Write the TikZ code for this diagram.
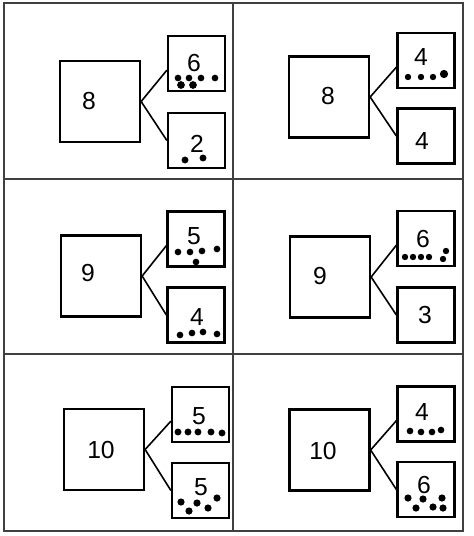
\documentclass[tikz,border=0pt]{standalone}
\usepackage{fontspec}
\setmainfont{Liberation Sans}
\begin{document}
\begin{tikzpicture}[x=0.75pt,y=-0.75pt,
  gridline/.style={draw=black!75, line width=0.8pt},
  bigbox/.style={draw, line width=1.7pt, minimum width=60pt, minimum height=60.75pt, inner sep=0pt},
  smallbox/.style={draw, line width=1.7pt, minimum width=42.75pt, minimum height=41.25pt, inner sep=0pt},
  num/.style={font=\fontsize{18.5}{20}\selectfont, inner sep=0pt},
  link/.style={line width=1.2pt}]
\useasboundingbox (0,0) rectangle (474,536);
% grid
\draw[gridline] (4,3) rectangle (463,531);
\draw[gridline] (233,3) -- (233,531);
\draw[gridline] (4,179) -- (463,179);
\draw[gridline] (4,354) -- (463,354);

% ---------- cell 1
\node[bigbox] (b1) at (100,101.5) {};
\node[num] (n1) at (89,101.5) {8};
\node[smallbox] (s1a) at (196.5,63.5) {};
\node[smallbox] (s1b) at (196.5,140.5) {};
\node[num] (t1a) at (194,63.5) {6};
\node[num] (t1b) at (197,143.5) {2};
\draw[link] ([yshift=-5pt]s1a.west) -- (b1.east) -- (s1b.west);
\foreach \p in {(178,78),(189,78),(201,78),(215,78)} \fill \p circle[radius=2.5pt];
\foreach \p in {(181,85),(193,85)} \fill \p circle[radius=2.9pt];
\foreach \p in {(185,160),(203,158)} \fill \p circle[radius=2.6pt];

% ---------- cell 2
\node[bigbox] (b2) at (329,97) {};
\node[num] (n2) at (328,96) {8};
\node[smallbox] (s2a) at (426,60.5) {};
\node[smallbox] (s2b) at (426,136) {};
\node[num] (t2a) at (421,57.5) {4};
\node[num] (t2b) at (422,141) {4};
\draw[link] ([yshift=-5pt]s2a.west) -- (b2.east) -- (s2b.west);
\foreach \p in {(408,77),(421,77),(433,77)} \fill \p circle[radius=2.4pt];
\fill (444,74) circle[radius=3.1pt];

% ---------- cell 3
\node[bigbox] (b3) at (101,276) {};
\node[num] (n3) at (88,273) {9};
\node[smallbox] (s3a) at (196,239) {};
\node[smallbox] (s3b) at (196,315) {};
\node[num] (t3a) at (194,236.5) {5};
\node[num] (t3b) at (197,317) {4};
\draw[link] ([yshift=-5pt]s3a.west) -- (b3.east) -- (s3b.west);
\foreach \p in {(178,252),(190,252),(202,251),(217,249),(196,262)} \fill \p circle[radius=2.5pt];
\foreach \p in {(180,335),(192,333),(203,332),(217,334)} \fill \p circle[radius=2.5pt];

% ---------- cell 4
\node[bigbox] (b4) at (330,277) {};
\node[num] (n4) at (320,276) {9};
\node[smallbox] (s4a) at (426,238.5) {};
\node[smallbox] (s4b) at (426,315) {};
\node[num] (t4a) at (423,239) {6};
\node[num] (t4b) at (425,315) {3};
\draw[link] ([yshift=-5pt]s4a.west) -- (b4.east) -- (s4b.west);
\foreach \p in {(405,257),(413,257),(421,257),(429,257),(443,259),(446,251)} \fill \p circle[radius=2.4pt];

% ---------- cell 5
\node[bigbox] (b5) at (104,449.5) {};
\node[num] (n5) at (101,450) {10};
\node[smallbox] (s5a) at (200.5,414.5) {};
\node[smallbox] (s5b) at (200.5,490.5) {};
\node[num] (t5a) at (199,416) {5};
\node[num] (t5b) at (201,487) {5};
\draw[link] ([yshift=-5pt]s5a.west) -- (b5.east) -- (s5b.west);
\foreach \p in {(178,432),(188,432),(198,432),(211,432),(222,433)} \fill \p circle[radius=2.6pt];
\foreach \p in {(181,502),(189,511),(197,503),(208,508),(217,498)} \fill \p circle[radius=2.7pt];

% ---------- cell 6
\node[bigbox] (b6) at (329.5,450) {};
\node[num] (n6) at (323,451) {10};
\node[smallbox] (s6a) at (426,414) {};
\node[smallbox] (s6b) at (426,489.5) {};
\node[num] (t6a) at (422,412) {4};
\node[num] (t6b) at (424,485) {6};
\draw[link] ([yshift=-5pt]s6a.west) -- (b6.east) -- (s6b.west);
\foreach \p in {(410,431),(421,432),(432,432),(441,430)} \fill \p circle[radius=2.5pt];
\foreach \p in {(408,498),(416,508),(423,499),(433,507),(442,498),(443,508)} \fill \p circle[radius=2.7pt];
\end{tikzpicture}
\end{document}
